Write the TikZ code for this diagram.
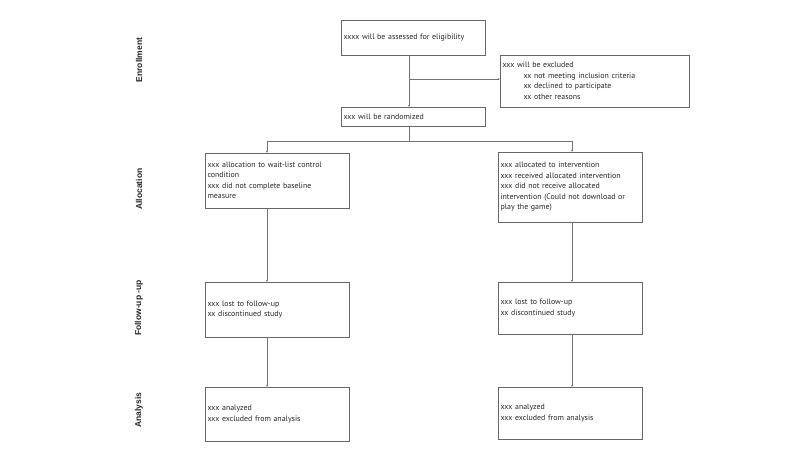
\documentclass[tikz,border=0pt]{standalone}
\usepackage{fontspec}
\setmainfont{PT Sans}
\newfontfamily\stagefont{Liberation Sans}
\usetikzlibrary{arrows.meta}

\begin{document}
\begin{tikzpicture}[x=1pt, y=-1pt,
  box/.style={draw=black!60, rectangle, text width=139pt, inner sep=2.5pt, align=left, font=\fontsize{7.9}{10.5}\selectfont, text=black!85},
  stage/.style={rotate=90, font=\stagefont\bfseries\fontsize{8.5}{10}\selectfont, text=black!85},
  line/.style={draw=black!55},
  arr/.style={draw=black!55, -{Stealth[length=2pt, width=2pt]}}]

\useasboundingbox (0,0) rectangle (800,470);

% stage labels on the left
\node[stage] at (139,  60) (enrol) {Enrollment};
\node[stage] at (139, 189) (alloc) {Allocation};
\node[stage] at (139, 308) (follow) {Follow-up -up};
\node[stage] at (139, 410) (anal) {Analysis};

% enrollment
\node[box, minimum height=35pt] at (413, 38) (assess) {xxxx will be assessed for eligibility};
\node[box, text width=184pt, minimum height=52pt] at (594.5, 81) (excl) {xxx will be excluded\\
  \hspace*{21pt}xx not meeting inclusion criteria\\
  \hspace*{21pt}xx declined to participate\\
  \hspace*{21pt}xx other reasons};
\node[box, minimum height=19pt] at (413, 116.5) (rand) {xxx will be randomized};

% allocation
\node[box, minimum height=55pt] at (277, 180.5) (allocL) {xxx allocation to wait-list control\\condition\\xxx did not complete baseline\\measure};
\node[box, minimum height=70pt] at (570, 187) (allocR) {xxx allocated to intervention\\xxx received allocated intervention\\xxx did not receive allocated\\intervention (Could not download or\\play the game)};

% follow-up
\node[box, minimum height=55pt] at (277, 309.5) (followL) {xxx lost to follow-up\\xx discontinued study};
\node[box, minimum height=52pt] at (570, 308) (followR) {xxx lost to follow-up\\xx discontinued study};

% analysis
\node[box, minimum height=54pt] at (277, 414) (analL) {xxx analyzed\\xxx excluded from analysis};
\node[box, minimum height=52pt] at (570, 413) (analR) {xxx analyzed\\xxx excluded from analysis};

% assessment to exclusion and randomization
\coordinate (xsplit) at (409, 79);
\draw[line] (assess.south -| xsplit) -- (xsplit);
\draw[arr] (xsplit) -- (rand.north -| xsplit);
\draw[arr] (xsplit) -- (xsplit -| excl.west);

% randomization into two arms
\coordinate (branch) at (409, 141);
\coordinate (colL) at (267, 141);
\coordinate (colR) at (572, 141);
\draw[line] (rand.south -| branch) -- (branch);
\draw[line] (colL) -- (colR);
\draw[arr] (colL) -- (allocL.north -| colL);
\draw[arr] (colR) -- (allocR.north -| colR);

% down the arms
\draw[arr] (allocL.south -| colL) -- (followL.north -| colL);
\draw[arr] (followL.south -| colL) -- (analL.north -| colL);
\draw[arr] (allocR.south -| colR) -- (followR.north -| colR);
\draw[arr] (followR.south -| colR) -- (analR.north -| colR);

\end{tikzpicture}
\end{document}
